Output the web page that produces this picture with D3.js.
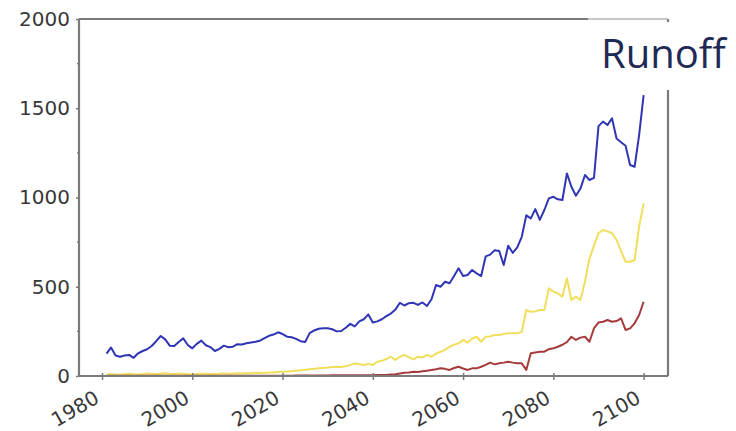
<!DOCTYPE html>
<html>
<head>
<meta charset="utf-8">
<script src="https://cdn.jsdelivr.net/npm/d3@7"></script>
<style>
  html, body { margin: 0; padding: 0; background: #fff; }
  svg { display: block; }
</style>
</head>
<body>
<svg id="chart" width="736" height="431"></svg>
<script>
// ---- data ----
const years = d3.range(1981, 2101);

const blueSeries = [
  125,160,115,108,115,118,102,127,140,150,
  168,195,224,205,170,168,190,211,174,155,
  180,198,172,162,140,152,170,161,164,178,
  176,183,188,192,198,212,225,232,245,235,
  220,217,208,195,190,240,255,265,268,267,
  262,250,252,270,292,278,306,318,345,300,
  306,318,335,350,372,410,395,408,410,398,
  412,392,430,510,500,528,520,560,603,560,
  566,594,575,560,670,680,705,700,622,730,
  690,720,780,900,883,935,875,930,995,1004,
  990,986,1135,1060,1010,1050,1126,1098,1110,1400,
  1425,1406,1443,1331,1310,1290,1182,1172,1350,1573
];

const yellowSeries = [
  8,10,9,7,10,12,10,9,11,14,
  12,10,13,15,12,11,13,12,10,9,
  11,13,12,10,11,12,14,13,12,15,
  14,16,15,18,17,18,20,19,22,24,
  25,27,30,32,35,38,40,43,45,47,
  50,52,50,55,62,71,66,62,68,62,
  80,85,95,108,90,108,118,104,93,108,
  104,118,108,125,136,146,164,175,183,202,
  187,210,220,192,220,222,230,230,236,239,
  240,239,248,370,360,362,370,370,491,473,
  463,444,547,426,444,426,528,659,730,800,
  818,810,800,762,700,640,640,650,836,967
];

const redSeries = [
  2,2,2,2,2,2,2,2,2,2,
  2,2,2,2,2,2,2,2,2,2,
  2,2,2,2,2,2,2,2,2,2,
  2,2,2,2,2,2,2,2,2,2,
  2,2,3,3,3,3,3,3,3,3,
  4,4,4,4,4,4,4,4,4,4,
  5,6,6,8,10,14,18,20,24,22,
  26,30,34,38,43,40,34,45,52,42,
  34,43,43,52,62,75,65,71,75,80,
  75,71,71,34,127,132,136,136,150,155,
  164,175,190,220,202,215,220,192,267,300,
  304,314,304,308,323,258,267,295,342,416
];

const xTickValues = [1980, 2000, 2020, 2040, 2060, 2080, 2100];
const yTickValues = [0, 500, 1000, 1500, 2000];
const yMinorTicks = [250, 750, 1250, 1750];
const titleText = "Runoff";

(function draw() {
  const svg = d3.select("#chart");
  const mLeft = 79, mRight = 668, mTop = 19, mBottom = 376;

  const x = d3.scaleLinear().domain([1974.9, 2105.4]).range([mLeft, mRight]);
  const y = d3.scaleLinear().domain([0, 2000]).range([mBottom, mTop]);

  const axisColor = "#7a7a7a";

  const line = d3.line()
    .x((d, i) => x(years[i]))
    .y(d => y(d));

  const series = [
    { values: yellowSeries, color: "#f1df5c" },
    { values: redSeries, color: "#a53b3b" },
    { values: blueSeries, color: "#2f35b4" }
  ];
  series.forEach(s => {
    svg.append("path")
      .datum(s.values)
      .attr("d", line)
      .attr("fill", "none")
      .attr("stroke", s.color)
      .attr("stroke-width", 2)
      .attr("stroke-linejoin", "round");
  });

  const yAxis = d3.axisLeft(y).tickValues(yTickValues).tickSize(3).tickPadding(6)
    .tickFormat(d3.format("d"));
  const gy = svg.append("g").attr("transform", `translate(${mLeft},0)`).call(yAxis);
  gy.select(".domain").remove();
  gy.selectAll(".tick line").attr("stroke", axisColor).attr("stroke-width", 1.5);
  gy.selectAll(".tick text")
    .attr("font-family", "DejaVu Sans, sans-serif")
    .attr("font-size", 20)
    .attr("fill", "#383838");

  svg.append("g").selectAll("line").data(yMinorTicks).join("line")
    .attr("x1", mLeft - 2).attr("x2", mLeft)
    .attr("y1", d => y(d)).attr("y2", d => y(d))
    .attr("stroke", axisColor).attr("stroke-width", 1.2);

  const xAxis = d3.axisBottom(x).tickValues(xTickValues).tickSize(4).tickFormat(d3.format("d"));
  const gx = svg.append("g").attr("transform", `translate(0,${mBottom})`).call(xAxis);
  gx.select(".domain").remove();
  gx.selectAll(".tick line").attr("stroke", axisColor).attr("stroke-width", 1.5).attr("y1", -3);
  gx.selectAll(".tick text")
    .attr("font-family", "DejaVu Sans, sans-serif")
    .attr("font-size", 20)
    .attr("fill", "#383838")
    .attr("text-anchor", "end")
    .attr("dy", null)
    .attr("y", 0)
    .attr("transform", "translate(-2,26) rotate(-30)");

  svg.append("line").attr("x1", mLeft).attr("x2", mLeft).attr("y1", mTop).attr("y2", mBottom)
    .attr("stroke", axisColor).attr("stroke-width", 2.2);
  svg.append("line").attr("x1", mLeft).attr("x2", mRight).attr("y1", mBottom).attr("y2", mBottom)
    .attr("stroke", axisColor).attr("stroke-width", 2.2);
  svg.append("line").attr("x1", mRight).attr("x2", mRight).attr("y1", mTop).attr("y2", mBottom)
    .attr("stroke", axisColor).attr("stroke-width", 2.2);
  svg.append("line").attr("x1", mLeft).attr("x2", 588).attr("y1", mTop).attr("y2", mTop)
    .attr("stroke", axisColor).attr("stroke-width", 2.2);
  svg.append("line").attr("x1", 588).attr("x2", mRight).attr("y1", mTop).attr("y2", mTop)
    .attr("stroke", "#b5b5b5").attr("stroke-width", 1.6);

  svg.append("rect").attr("x", 589).attr("y", 22).attr("width", 147).attr("height", 68)
    .attr("fill", "#fff");
  svg.append("text")
    .attr("x", 601).attr("y", 68)
    .attr("font-family", "Open Sans, sans-serif")
    .attr("font-size", 40)
    .attr("fill", "#1e2a55")
    .text(titleText);
})();
</script>
</body>
</html>
